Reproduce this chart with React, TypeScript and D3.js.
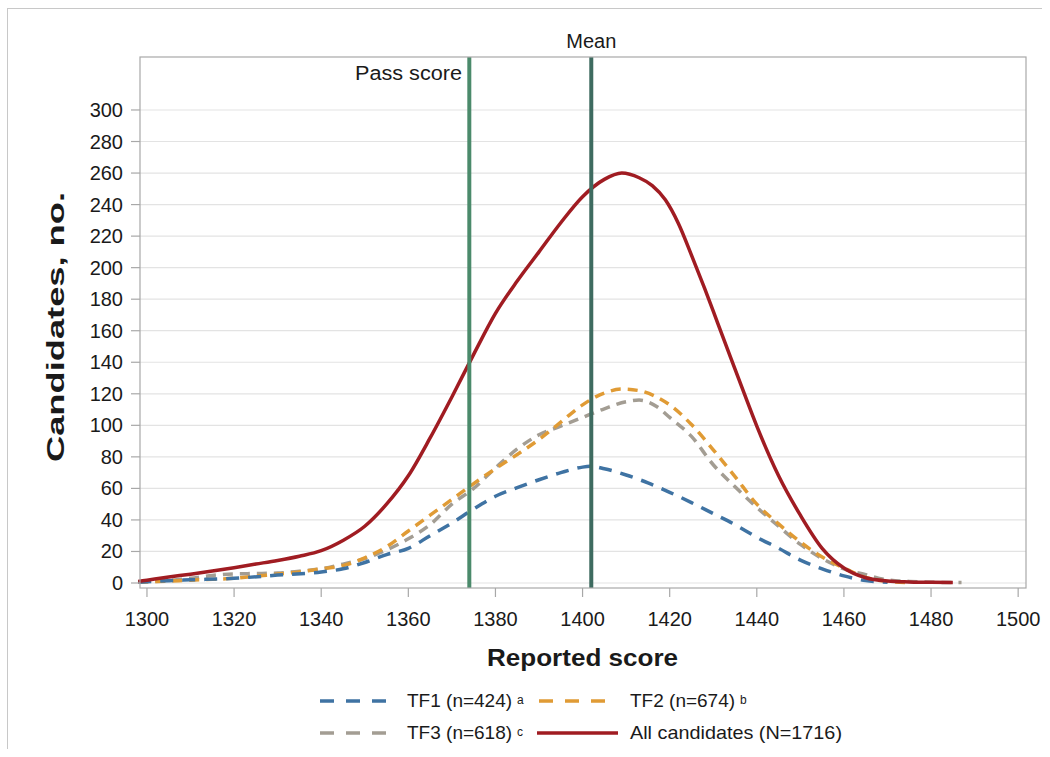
import React from "react";
import * as d3 from "d3";

const xTicks = [1300, 1320, 1340, 1360, 1380, 1400, 1420, 1440, 1460, 1480, 1500];
const yTicks = [0, 20, 40, 60, 80, 100, 120, 140, 160, 180, 200, 220, 240, 260, 280, 300];

const allX = [1298, 1300, 1305, 1310, 1315, 1320, 1325, 1330, 1335, 1340, 1345, 1350, 1355, 1360, 1365, 1370, 1375, 1380, 1385, 1390, 1395, 1400, 1405, 1409, 1413, 1416, 1419, 1422, 1425, 1428, 1431, 1434, 1437, 1440, 1445, 1450, 1455, 1460, 1465, 1470, 1475, 1480, 1485];
const allY = [1, 1.8, 3.8, 5.6, 7.6, 9.7, 12, 14.3, 17, 20.5, 27, 36, 50, 68, 92, 118, 145, 171, 191.5, 210, 228.5, 245, 256, 260, 257, 252, 243, 228, 208, 187, 165, 143, 121, 99.5, 68, 43, 22, 9.5, 3.3, 1.3, 0.7, 0.4, 0.3];

const tf1X = [1298, 1305, 1310, 1320, 1330, 1340, 1345, 1350, 1355, 1360, 1365, 1370, 1375, 1380, 1385, 1390, 1395, 1400, 1402, 1405, 1410, 1415, 1420, 1425, 1430, 1435, 1440, 1445, 1450, 1455, 1460, 1465, 1470];
const tf1Y = [0.5, 1.5, 2, 3, 5, 7, 9, 13, 18, 22, 30, 38, 47, 55, 60.5, 65.5, 70, 73.5, 74, 72.5, 68.5, 63.5, 57.5, 51, 44, 37, 29, 22, 14.5, 9, 4.5, 1.5, 0.5];

const tf2X = [1298, 1305, 1310, 1315, 1320, 1325, 1330, 1335, 1340, 1345, 1350, 1355, 1360, 1365, 1370, 1375, 1380, 1385, 1390, 1395, 1400, 1405, 1409, 1413, 1417, 1420, 1425, 1430, 1435, 1440, 1445, 1450, 1455, 1460, 1465, 1470, 1475];
const tf2Y = [0.5, 1.2, 1.8, 2.3, 3, 4.3, 5.7, 7, 9, 11, 16, 23, 33, 43, 53, 63, 72.5, 81.5, 91, 102, 113, 120.5, 123, 122, 118, 113, 100.5, 84.5, 67.5, 50, 37.5, 26, 16.5, 9.5, 3.5, 1, 0.3];

const tf3X = [1298, 1305, 1310, 1315, 1320, 1325, 1330, 1335, 1340, 1345, 1350, 1355, 1360, 1365, 1370, 1375, 1380, 1385, 1390, 1395, 1400, 1405, 1410, 1413, 1417, 1420, 1425, 1430, 1435, 1440, 1445, 1450, 1455, 1460, 1465, 1470, 1475, 1480, 1487];
const tf3Y = [0.5, 1.5, 3, 4.8, 5.8, 6, 6.3, 7.5, 9, 12, 15.5, 21, 28, 37, 50, 60, 73, 85, 94, 99.5, 105, 110.5, 115, 116, 112, 105, 93, 75, 61, 48, 36, 24.5, 15.5, 9, 5.3, 2, 1, 0.5, 0.3];

const passScore = 1374;
const meanScore = 1402;

const FONT = "'Liberation Sans', Arial, Helvetica, sans-serif";

export default function App() {
  const left = 140, right = 1026, top = 57, bottom = 588;
  const x = d3.scaleLinear().domain([1298.4, 1501.8]).range([left, right]);
  const y = d3.scaleLinear().domain([-3.17, 333.6]).range([bottom, top]);

  const mk = (xs: number[], ys: number[]) =>
    d3.line<number>().x((_, i) => x(xs[i])).y((v) => y(v)).curve(d3.curveMonotoneX)(ys) || "";

  const series = [
    { xs: tf3X, ys: tf3Y, color: "#a39d93", dash: "10,7", w: 3.5 },
    { xs: tf2X, ys: tf2Y, color: "#e09b35", dash: "10,7", w: 3.5 },
    { xs: tf1X, ys: tf1Y, color: "#3f73a3", dash: "13,9", w: 3.5 },
    { xs: allX, ys: allY, color: "#a01c22", dash: "", w: 3.5 },
  ];

  return (
    <svg width={1042} height={749} style={{ display: "block", position: "absolute", left: 0, top: 0 }} viewBox="0 0 1042 749">
      <rect x={0} y={0} width={1050} height={757} fill="#fff" />
      <line x1={7} y1={8.5} x2={1050} y2={8.5} stroke="#c8c8c8" strokeWidth={1} />
      <line x1={7.5} y1={8} x2={7.5} y2={757} stroke="#c8c8c8" strokeWidth={1} />
      {yTicks.map((t) => (
        <line key={"g" + t} x1={left} x2={right} y1={y(t)} y2={y(t)} stroke="#e3e3e3" strokeWidth={1.2} />
      ))}
      {series.map((s, i) => (
        <path key={i} d={mk(s.xs, s.ys)} fill="none" stroke={s.color} strokeWidth={s.w} strokeDasharray={s.dash || undefined} />
      ))}
      <line x1={x(passScore)} x2={x(passScore)} y1={top} y2={bottom} stroke="#4b8a6b" strokeWidth={4} />
      <line x1={x(meanScore)} x2={x(meanScore)} y1={top} y2={bottom} stroke="#3e6b60" strokeWidth={4} />
      <rect x={left} y={top} width={right - left} height={bottom - top} fill="none" stroke="#a8a8a8" strokeWidth={1.2} />
      {yTicks.map((t) => (
        <g key={"y" + t}>
          <line x1={left - 9} x2={left} y1={y(t)} y2={y(t)} stroke="#a8a8a8" strokeWidth={1.2} />
          <text x={123} y={y(t)} dy="0.35em" textAnchor="end" fontFamily={FONT} fontSize={20} fill="#1a1a1a">{t}</text>
        </g>
      ))}
      {xTicks.map((t) => (
        <g key={"x" + t}>
          <line x1={x(t)} x2={x(t)} y1={bottom} y2={bottom + 9} stroke="#a8a8a8" strokeWidth={1.2} />
          <text x={x(t)} y={626} textAnchor="middle" fontFamily={FONT} fontSize={20} fill="#1a1a1a">{t}</text>
        </g>
      ))}
      <text x={x(meanScore)} y={48} textAnchor="middle" fontFamily={FONT} fontSize={20} fill="#1a1a1a">Mean</text>
      <text x={355} y={80} textLength={107} lengthAdjust="spacingAndGlyphs" fontFamily={FONT} fontSize={19.5} fill="#1a1a1a">Pass score</text>
      <text x={487} y={666} textLength={191} lengthAdjust="spacingAndGlyphs" fontFamily={FONT} fontSize={23} fontWeight="bold" fill="#1a1a1a">Reported score</text>
      <text transform="translate(64,462) rotate(-90)" textLength={270} lengthAdjust="spacingAndGlyphs" fontFamily={FONT} fontSize={23} fontWeight="bold" fill="#1a1a1a">Candidates, no.</text>
      <g fontFamily={FONT} fill="#1a1a1a">
        <line x1={320} x2={386} y1={701} y2={701} stroke="#3f73a3" strokeWidth={3.5} strokeDasharray="14,12" />
        <text x={407} y={707} fontSize={19}>TF1 (n=424)<tspan dx={5} dy={-3} fontSize={12}>a</tspan></text>
        <line x1={539} x2={607} y1={701} y2={701} stroke="#e09b35" strokeWidth={3.5} strokeDasharray="14,12" />
        <text x={630} y={707} fontSize={19}>TF2 (n=674)<tspan dx={5} dy={-3} fontSize={12}>b</tspan></text>
        <line x1={320} x2={386} y1={733} y2={733} stroke="#a39d93" strokeWidth={3.5} strokeDasharray="14,12" />
        <text x={407} y={739} fontSize={19}>TF3 (n=618)<tspan dx={5} dy={-3} fontSize={12}>c</tspan></text>
        <line x1={537} x2={618} y1={733} y2={733} stroke="#a01c22" strokeWidth={3.5} />
        <text x={630} y={739} fontSize={19} textLength={212} lengthAdjust="spacingAndGlyphs">All candidates (N=1716)</text>
      </g>
    </svg>
  );
}
